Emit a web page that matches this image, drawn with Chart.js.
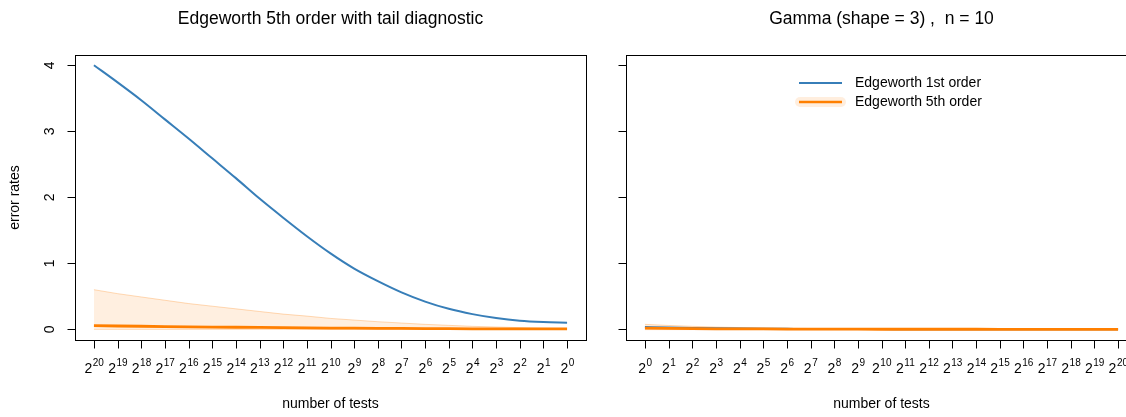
<!DOCTYPE html>
<html>
<head>
<meta charset="utf-8">
<script src="https://cdn.jsdelivr.net/npm/chart.js@4.4.1/dist/chart.umd.min.js"></script>
<style>
  html, body { margin: 0; padding: 0; background: #fff; overflow: hidden; width: 1126px; height: 417px; }
  canvas { position: absolute; top: 0; }
  #leftPanel { left: 0; }
  #rightPanel { left: 600px; }
</style>
</head>
<body>
<canvas id="leftPanel" width="600" height="417"></canvas>
<canvas id="rightPanel" width="560" height="417"></canvas>
<script>
// exponents k of 2^k tests, in plotting order
const expLeft = [20, 19, 18, 17, 16, 15, 14, 13, 12, 11, 10, 9, 8, 7, 6, 5, 4, 3, 2, 1, 0];
const expRight = [0, 1, 2, 3, 4, 5, 6, 7, 8, 9, 10, 11, 12, 13, 14, 15, 16, 17, 18, 19, 20];
const yTicks = [0, 1, 2, 3, 4];

// left panel: error rates
const edge1Left = [4.00, 3.74, 3.47, 3.18, 2.89, 2.59, 2.29, 1.98, 1.69, 1.41, 1.15, 0.92, 0.73, 0.56, 0.42, 0.31, 0.23, 0.17, 0.13, 0.11, 0.10];
const edge5Left = [0.055, 0.050, 0.046, 0.042, 0.038, 0.034, 0.031, 0.028, 0.025, 0.022, 0.019, 0.017, 0.015, 0.013, 0.011, 0.009, 0.008, 0.007, 0.006, 0.005, 0.005];
const tailLowLeft = [-0.002, -0.002, -0.002, -0.002, -0.002, -0.002, -0.002, -0.002, -0.002, -0.002, -0.002, -0.002, -0.002, -0.002, -0.002, -0.002, -0.002, -0.002, -0.002, -0.002, -0.002];
const tailHighLeft = [0.60, 0.54, 0.49, 0.44, 0.39, 0.35, 0.31, 0.27, 0.23, 0.20, 0.165, 0.14, 0.115, 0.095, 0.075, 0.06, 0.045, 0.035, 0.025, 0.015, 0.01];

// right panel: Gamma(shape = 3), n = 10
const edge1Right = [0.035, 0.027, 0.021, 0.016, 0.012, 0.009, 0.007, 0.005, 0.004, 0.003, 0.003, 0.002, 0.002, 0.002, 0.001, 0.001, 0.001, 0.001, 0.001, 0.001, 0.001];
const edge5Right = [0.018, 0.014, 0.011, 0.008, 0.006, 0.005, 0.004, 0.003, 0.002, 0.002, 0.001, 0.001, 0.001, 0.001, 0.001, 0.000, 0.000, 0.000, 0.000, 0.000, 0.000];
const tailLowRight = [-0.005, -0.005, -0.005, -0.005, -0.005, -0.005, -0.005, -0.005, -0.005, -0.005, -0.005, -0.005, -0.005, -0.005, -0.005, -0.005, -0.005, -0.005, -0.005, -0.005, -0.005];
const tailHighRight = [0.075, 0.058, 0.045, 0.034, 0.026, 0.020, 0.015, 0.012, 0.009, 0.007, 0.006, 0.005, 0.004, 0.003, 0.003, 0.002, 0.002, 0.002, 0.001, 0.001, 0.001];

const BLUE = '#377EB8';
const ORANGE = '#FF7F00';
const FONT = "'Liberation Sans', Arial, sans-serif";

const pts = arr => arr.map((v, i) => ({ x: i, y: v }));

// base-R style frame: box, outward ticks, 2^k labels, titles
const rFrame = {
  id: 'rFrame',
  afterDraw(chart, args, opts) {
    const ctx = chart.ctx, a = chart.chartArea;
    const xs = chart.scales.x, ys = chart.scales.y;
    ctx.save();
    ctx.strokeStyle = '#000';
    ctx.fillStyle = '#000';
    ctx.lineWidth = 1;
    ctx.strokeRect(Math.round(a.left) + 0.5, Math.round(a.top) + 0.5,
                   Math.round(a.right - a.left), Math.round(a.bottom - a.top));

    // x axis ticks and labels
    const bottom = Math.round(a.bottom) + 0.5;
    opts.exps.forEach((k, i) => {
      const px = Math.round(xs.getPixelForValue(i)) + 0.5;
      ctx.beginPath();
      ctx.moveTo(px, bottom);
      ctx.lineTo(px, bottom + 8);
      ctx.stroke();
      ctx.font = '14px ' + FONT;
      const wb = ctx.measureText('2').width;
      ctx.font = '10px ' + FONT;
      const ws = ctx.measureText(String(k)).width;
      const x0 = xs.getPixelForValue(i) - (wb + ws) / 2;
      ctx.textAlign = 'left';
      ctx.textBaseline = 'alphabetic';
      ctx.font = '14px ' + FONT;
      ctx.fillText('2', x0, 373);
      ctx.font = '10px ' + FONT;
      ctx.fillText(String(k), x0 + wb + 0.5, 366);
    });

    // y axis ticks, labels only on the left panel
    const left = Math.round(a.left) + 0.5;
    yTicks.forEach(v => {
      const py = Math.round(ys.getPixelForValue(v)) + 0.5;
      ctx.beginPath();
      ctx.moveTo(left - 8, py);
      ctx.lineTo(left, py);
      ctx.stroke();
      if (opts.yLabels) {
        ctx.save();
        ctx.translate(54, ys.getPixelForValue(v));
        ctx.rotate(-Math.PI / 2);
        ctx.font = '14px ' + FONT;
        ctx.textAlign = 'center';
        ctx.textBaseline = 'alphabetic';
        ctx.fillText(String(v), 0, 0);
        ctx.restore();
      }
    });

    const cx = (a.left + a.right) / 2;
    ctx.textAlign = 'center';
    ctx.textBaseline = 'alphabetic';
    ctx.font = '17.5px ' + FONT;
    ctx.fillText(opts.title, cx, 24);
    ctx.font = '14px ' + FONT;
    ctx.fillText('number of tests', cx, 408);

    if (opts.yTitle) {
      ctx.save();
      ctx.translate(19, (a.top + a.bottom) / 2);
      ctx.rotate(-Math.PI / 2);
      ctx.fillText(opts.yTitle, 0, 0);
      ctx.restore();
    }

    if (opts.legend) {
      const lg = opts.legend;
      ctx.textAlign = 'left';
      ctx.textBaseline = 'middle';
      ctx.font = '14px ' + FONT;
      // first order entry
      ctx.strokeStyle = BLUE;
      ctx.lineWidth = 2;
      ctx.beginPath();
      ctx.moveTo(lg.x, lg.y);
      ctx.lineTo(lg.x + 43, lg.y);
      ctx.stroke();
      ctx.fillText('Edgeworth 1st order', lg.x + 56, lg.y);
      // fifth order entry with band swatch
      const y2 = lg.y + 19;
      ctx.fillStyle = 'rgba(255,127,0,0.13)';
      ctx.beginPath();
      ctx.roundRect(lg.x - 4, y2 - 5, 51, 10, 5);
      ctx.fill();
      ctx.strokeStyle = ORANGE;
      ctx.lineWidth = 2.5;
      ctx.beginPath();
      ctx.moveTo(lg.x, y2);
      ctx.lineTo(lg.x + 43, y2);
      ctx.stroke();
      ctx.fillStyle = '#000';
      ctx.fillText('Edgeworth 5th order', lg.x + 56, y2);
    }
    ctx.restore();
  }
};

function makePanel(id, tailLow, tailHigh, edge1, edge5, pad, frame) {
  return new Chart(document.getElementById(id), {
    type: 'line',
    data: {
      datasets: [
        { data: pts(tailLow), borderColor: 'rgba(255,127,0,0.22)', borderWidth: 1, fill: false, order: 4 },
        { data: pts(tailHigh), borderColor: 'rgba(255,127,0,0.28)', borderWidth: 1,
          backgroundColor: 'rgba(255,127,0,0.12)', fill: '-1', order: 3 },
        { data: pts(edge1), borderColor: BLUE, borderWidth: 2, fill: false, order: 2, cubicInterpolationMode: 'monotone' },
        { data: pts(edge5), borderColor: ORANGE, borderWidth: 2.8, fill: false, order: 1 }
      ]
    },
    options: {
      responsive: false,
      animation: false,
      devicePixelRatio: 1,
      layout: { padding: pad },
      elements: { point: { radius: 0 } },
      scales: {
        x: { type: 'linear', min: -0.8, max: 20.8, display: false },
        y: { min: -0.162, max: 4.155, display: false }
      },
      plugins: {
        legend: { display: false },
        tooltip: { enabled: false },
        rFrame: frame
      }
    },
    plugins: [rFrame]
  });
}

makePanel('leftPanel', tailLowLeft, tailHighLeft, edge1Left, edge5Left,
  { left: 75, right: 14, top: 55, bottom: 77 },
  { exps: expLeft, yLabels: true, title: 'Edgeworth 5th order with tail diagnostic', yTitle: 'error rates' });

makePanel('rightPanel', tailLowRight, tailHighRight, edge1Right, edge5Right,
  { left: 26, right: 23, top: 55, bottom: 77 },
  { exps: expRight, yLabels: false, title: 'Gamma (shape = 3) ,  n = 10', legend: { x: 199, y: 83 } });
</script>
</body>
</html>
